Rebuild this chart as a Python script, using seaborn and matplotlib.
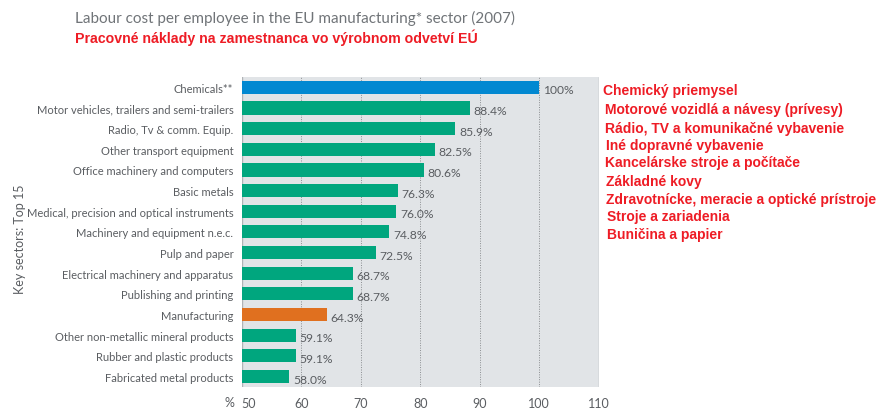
import pandas as pd
import numpy as np
import matplotlib.pyplot as plt
import seaborn as sns

sectors = ['Chemicals**', 'Motor vehicles, trailers and semi-trailers',
           'Radio, Tv & comm. Equip.', 'Other transport equipment',
           'Office machinery and computers', 'Basic metals',
           'Medical, precision and optical instruments',
           'Machinery and equipment n.e.c.', 'Pulp and paper',
           'Electrical machinery and apparatus', 'Publishing and printing',
           'Manufacturing', 'Other non-metallic mineral products',
           'Rubber and plastic products', 'Fabricated metal products']
values = [100, 88.4, 85.9, 82.5, 80.6, 76.3, 76.0, 74.8, 72.5, 68.7, 68.7,
          64.3, 59.1, 59.1, 58.0]
groups = ['ref'] + ['sector'] * 10 + ['total'] + ['sector'] * 3
slovak = ['Chemický priemysel', 'Motorové vozidlá a návesy (prívesy)',
          'Rádio, TV a komunikačné vybavenie', 'Iné dopravné vybavenie',
          'Kancelárske stroje a počítače', 'Základné kovy',
          'Zdravotnícke, meracie a optické prístroje', 'Stroje a zariadenia',
          'Buničina a papier']
xticks = [50, 60, 70, 80, 90, 100, 110]

df = pd.DataFrame({'sector': sectors, 'value': values, 'group': groups})
palette = {'ref': '#0288D1', 'sector': '#00A67E', 'total': '#E0701F'}

sns.set_style('white')
plt.rcParams['font.family'] = ['Lato', 'DejaVu Sans']
grey = '#5a5d61'

fig = plt.figure(figsize=(8.82, 4.1), dpi=100)
ax = fig.add_axes([0.274, 0.054, 0.405, 0.756])
ax.set_facecolor('#E1E4E7')

sns.barplot(data=df, x='value', y='sector', hue='group', palette=palette,
            dodge=False, legend=False, width=0.64, saturation=1,
            linewidth=0, ax=ax)

ax.set_xlim(50, 110)
ax.set_ylim(14.5, -0.5)
ax.set_xticks(xticks)
ax.set_xticklabels(xticks, color=grey, fontsize=9)
ax.get_xticklabels()[0].set_horizontalalignment('left')
ax.tick_params(axis='x', length=0, pad=7)
ax.tick_params(axis='y', length=0, pad=6, labelsize=8.0, labelcolor=grey)
# dotted grid lines inside the grey panel
for t in xticks[1:-1]:
    ax.axvline(t, color='#8a8d90', lw=0.7, ls=(0, (1, 1.5)), zorder=0)
ax.axvline(110, color='#b0b3b6', lw=1, zorder=0)
ax.axvline(50, color='#b0b3b6', lw=1, zorder=0)
ax.set_axisbelow(True)
for s in ax.spines.values():
    s.set_visible(False)
ax.set_xlabel('')
ax.set_ylabel('Key sectors: Top 15', color=grey, fontsize=9)
ax.yaxis.set_label_coords(-0.605, 0.48)

for i, v in enumerate(values):
    lab = '100%' if v == 100 else f'{v:.1f}%'
    ax.text(v + 0.6, i + 0.12, lab, va='center', ha='left', color=grey,
            fontsize=8.7)

fig.text(229 / 882, 1 - 403 / 410, '%', color=grey, fontsize=9,
         ha='center', va='center')

fig.text(75 / 882, 1 - 18 / 410,
         'Labour cost per employee in the EU manufacturing* sector (2007)',
         color='#707478', fontsize=11, ha='left', va='center')
fig.text(75 / 882, 1 - 38 / 410,
         'Pracovné náklady na zamestnanca vo výrobnom odvetví EÚ',
         color='#EE1C25', fontsize=10.2, fontweight='bold', ha='left',
         va='center', family='Liberation Sans')

# Slovak translations on the right
sk_y = [91, 110, 129, 146, 163, 182, 200, 217, 235]
sk_x = [603, 605, 605, 606, 605, 606, 606, 607, 607]
for txt, yy, xx in zip(slovak, sk_y, sk_x):
    fig.text(xx / 882, 1 - yy / 410, txt, color='#EE1C25', fontsize=10,
             fontweight='bold', ha='left', va='center', family='Liberation Sans')

fig.savefig('out.png', dpi=100)
